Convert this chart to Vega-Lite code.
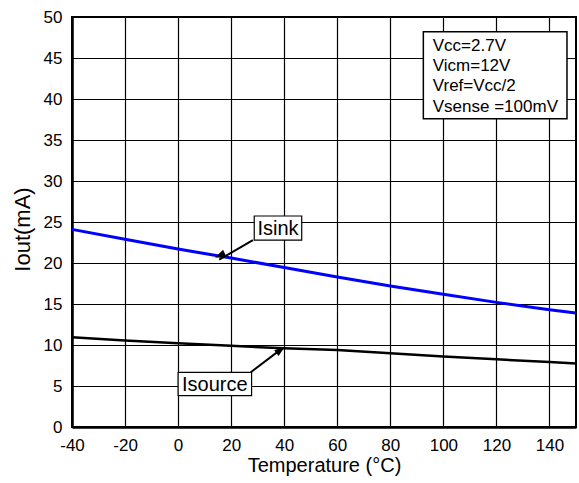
{
  "$schema": "https://vega.github.io/schema/vega-lite/v6.json",
  "width": 504,
  "height": 410,
  "autosize": {"type": "none"},
  "padding": {"left": 72, "top": 17, "right": 3, "bottom": 56},
  "background": "white",
  "config": {
    "font": "Liberation Sans",
    "view": {"stroke": "black", "strokeWidth": 2},
    "axis": {
      "gridColor": "black", "gridOpacity": 1, "gridWidth": 1.2,
      "domainColor": "black", "domainWidth": 2.5,
      "ticks": false, "labelFlush": false, "labelOverlap": false,
      "labelFont": "Liberation Sans", "labelFontSize": 17, "labelColor": "black",
      "titleFont": "Liberation Sans", "titleFontWeight": "normal", "titleColor": "black"
    }
  },
  "datasets": {
    "curves": [
      {"T": -40, "I": 24.1, "series": "Isink"},
      {"T": -20, "I": 22.9, "series": "Isink"},
      {"T": 0, "I": 21.7, "series": "Isink"},
      {"T": 20, "I": 20.6, "series": "Isink"},
      {"T": 40, "I": 19.45, "series": "Isink"},
      {"T": 60, "I": 18.3, "series": "Isink"},
      {"T": 80, "I": 17.2, "series": "Isink"},
      {"T": 100, "I": 16.2, "series": "Isink"},
      {"T": 120, "I": 15.2, "series": "Isink"},
      {"T": 140, "I": 14.3, "series": "Isink"},
      {"T": 150, "I": 13.9, "series": "Isink"},
      {"T": -40, "I": 10.95, "series": "Isource"},
      {"T": -20, "I": 10.55, "series": "Isource"},
      {"T": 0, "I": 10.2, "series": "Isource"},
      {"T": 20, "I": 9.9, "series": "Isource"},
      {"T": 40, "I": 9.6, "series": "Isource"},
      {"T": 60, "I": 9.4, "series": "Isource"},
      {"T": 80, "I": 9.0, "series": "Isource"},
      {"T": 100, "I": 8.6, "series": "Isource"},
      {"T": 120, "I": 8.25, "series": "Isource"},
      {"T": 140, "I": 7.93, "series": "Isource"},
      {"T": 150, "I": 7.75, "series": "Isource"}
    ],
    "boxes": [
      {"x1": 28.7, "x2": 46.6, "y1": 22.8, "y2": 25.73, "label": "Isink", "cx": 37.65, "cy": 24.27},
      {"x1": 0.0, "x2": 27.7, "y1": 3.82, "y2": 6.67, "label": "Isource", "cx": 13.85, "cy": 5.24}
    ],
    "legendBox": [
      {"x1": 92.45, "x2": 146.6, "y1": 37.6, "y2": 48.2}
    ],
    "legendText": [
      {"T": 96.0, "I": 45.82, "text": "Vcc=2.7V"},
      {"T": 96.0, "I": 43.39, "text": "Vicm=12V"},
      {"T": 96.0, "I": 40.95, "text": "Vref=Vcc/2"},
      {"T": 96.0, "I": 38.37, "text": "Vsense =100mV"}
    ],
    "arrows": [
      {"arrow": "a", "T": 28.2, "I": 22.8},
      {"arrow": "a", "T": 15.5, "I": 20.4},
      {"arrow": "b", "T": 27.4, "I": 6.67},
      {"arrow": "b", "T": 38.5, "I": 9.4}
    ],
    "heads": [
      {"T": 13.85, "I": 20.65, "angle": 245},
      {"T": 40.3, "I": 9.79, "angle": 53}
    ]
  },
  "layer": [
    {
      "data": {"name": "curves"},
      "transform": [{"filter": "datum.series === 'Isource'"}],
      "mark": {"type": "line", "color": "black", "strokeWidth": 2.5},
      "encoding": {
        "x": {
          "field": "T", "type": "quantitative",
          "scale": {"domain": [-40, 150], "nice": false},
          "axis": {
            "values": [-40, -20, 0, 20, 40, 60, 80, 100, 120, 140],
            "labelExpr": "'' + datum.value",
            "grid": true, "labelPadding": 10,
            "title": "Temperature (°C)", "titleFontSize": 20, "titlePadding": 2
          }
        },
        "y": {
          "field": "I", "type": "quantitative",
          "scale": {"domain": [0, 50], "nice": false},
          "axis": {
            "values": [0, 5, 10, 15, 20, 25, 30, 35, 40, 45, 50],
            "grid": true, "labelPadding": 10,
            "title": "Iout(mA)", "titleFontSize": 22, "titlePadding": 9, "titleY": 212
          }
        }
      }
    },
    {
      "data": {"name": "curves"},
      "transform": [{"filter": "datum.series === 'Isink'"}],
      "mark": {"type": "line", "color": "#0000ff", "strokeWidth": 3},
      "encoding": {
        "x": {"field": "T", "type": "quantitative"},
        "y": {"field": "I", "type": "quantitative"}
      }
    },
    {
      "data": {"name": "arrows"},
      "mark": {"type": "line", "color": "black", "strokeWidth": 2},
      "encoding": {
        "x": {"field": "T", "type": "quantitative"},
        "y": {"field": "I", "type": "quantitative"},
        "detail": {"field": "arrow"}
      }
    },
    {
      "data": {"name": "heads"},
      "mark": {"type": "point", "shape": "M0,0L-0.4,1.2L0.4,1.2Z", "filled": true, "color": "black", "opacity": 1, "size": 324},
      "encoding": {
        "x": {"field": "T", "type": "quantitative"},
        "y": {"field": "I", "type": "quantitative"},
        "angle": {"field": "angle", "type": "quantitative", "scale": null}
      }
    },
    {
      "data": {"name": "boxes"},
      "mark": {"type": "rect", "fill": "white", "stroke": "black", "strokeWidth": 1.2},
      "encoding": {
        "x": {"field": "x1", "type": "quantitative"},
        "x2": {"field": "x2"},
        "y": {"field": "y1", "type": "quantitative"},
        "y2": {"field": "y2"}
      }
    },
    {
      "data": {"name": "boxes"},
      "mark": {"type": "text", "fontSize": 20, "color": "black", "align": "center", "baseline": "middle", "dy": 1},
      "encoding": {
        "x": {"field": "cx", "type": "quantitative"},
        "y": {"field": "cy", "type": "quantitative"},
        "text": {"field": "label"}
      }
    },
    {
      "data": {"name": "legendBox"},
      "mark": {"type": "rect", "fill": "white", "stroke": "black", "strokeWidth": 1.5},
      "encoding": {
        "x": {"field": "x1", "type": "quantitative"},
        "x2": {"field": "x2"},
        "y": {"field": "y1", "type": "quantitative"},
        "y2": {"field": "y2"}
      }
    },
    {
      "data": {"name": "legendText"},
      "mark": {"type": "text", "fontSize": 17, "color": "black", "align": "left", "baseline": "alphabetic"},
      "encoding": {
        "x": {"field": "T", "type": "quantitative"},
        "y": {"field": "I", "type": "quantitative"},
        "text": {"field": "text"}
      }
    }
  ]
}
